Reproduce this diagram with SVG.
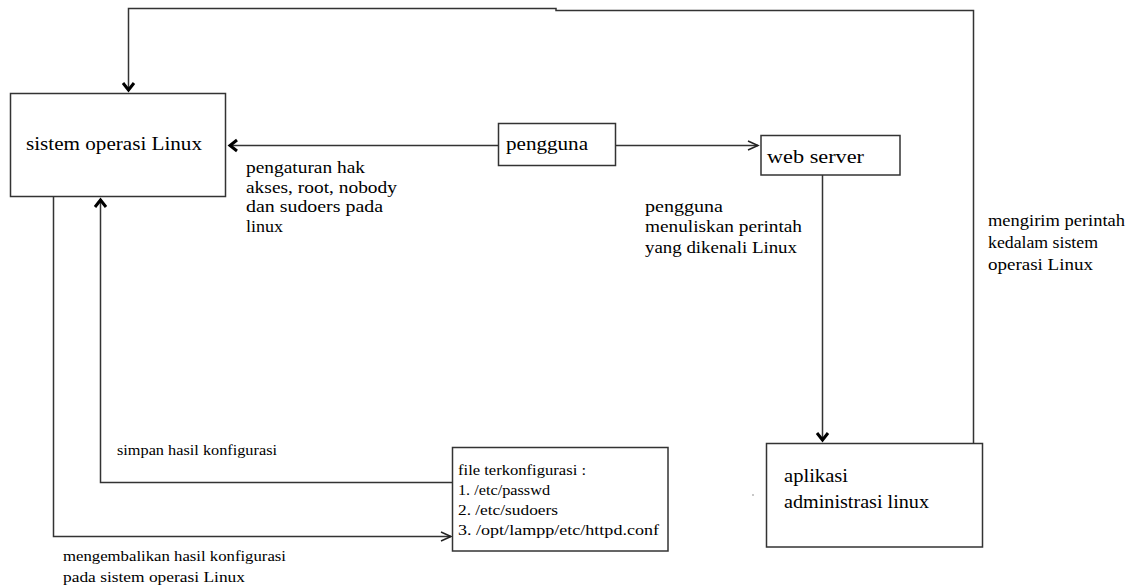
<svg xmlns="http://www.w3.org/2000/svg" width="1129" height="587" viewBox="0 0 1129 587">
<style>
.box{fill:#fff;stroke:#333;stroke-width:1.5}
.ln{fill:none;stroke:#333;stroke-width:1.5}
.t{font-family:"Liberation Serif","Times New Roman",serif;fill:#000}
.big{font-size:19px}
.mid{font-size:17px}
.sm{font-size:15px}
</style>
<defs>
<marker id="bold" markerUnits="userSpaceOnUse" markerWidth="14" markerHeight="14" refX="0" refY="0" viewBox="-12 -7 14 14" orient="auto" overflow="visible">
<path d="M-8,-5.5 L-1,0 L-8,5.5" fill="none" stroke="#000" stroke-width="3"/>
</marker>
<marker id="thin" markerUnits="userSpaceOnUse" markerWidth="14" markerHeight="14" refX="0" refY="0" viewBox="-12 -7 14 14" orient="auto" overflow="visible">
<path d="M-10,-4.5 L0,0 L-10,4.5" fill="none" stroke="#222" stroke-width="1.5"/>
</marker>
</defs>
<rect width="1129" height="587" fill="#fff"/>
<g id="connectors">
<path class="ln" d="M973.5 443 V10.5 H556 V8.5 H128.5 V91" marker-end="url(#bold)"/>
<path class="ln" d="M498 145.5 H229" marker-end="url(#bold)"/>
<path class="ln" d="M616 145.5 H758" marker-end="url(#thin)"/>
<path class="ln" d="M822.5 175 V441" marker-end="url(#bold)"/>
<path class="ln" d="M53.5 197 V536.5 H451" marker-end="url(#thin)"/>
<path class="ln" d="M452 482.5 H100.5 V199" marker-end="url(#bold)"/>
<text class="t mid" x="246" y="173" textLength="119" lengthAdjust="spacingAndGlyphs">pengaturan hak</text>
<text class="t mid" x="246" y="192.5" textLength="151" lengthAdjust="spacingAndGlyphs">akses, root, nobody</text>
<text class="t mid" x="246" y="212" textLength="137" lengthAdjust="spacingAndGlyphs">dan sudoers pada</text>
<text class="t mid" x="246" y="231.5" textLength="37" lengthAdjust="spacingAndGlyphs">linux</text>
<text class="t mid" x="645" y="212" textLength="78" lengthAdjust="spacingAndGlyphs">pengguna</text>
<text class="t mid" x="645" y="232" textLength="157" lengthAdjust="spacingAndGlyphs">menuliskan perintah</text>
<text class="t mid" x="645" y="252.5" textLength="152" lengthAdjust="spacingAndGlyphs">yang dikenali Linux</text>
<text class="t mid" x="988" y="226" textLength="137" lengthAdjust="spacingAndGlyphs">mengirim perintah</text>
<text class="t mid" x="988" y="248" textLength="110" lengthAdjust="spacingAndGlyphs">kedalam sistem</text>
<text class="t mid" x="988" y="270" textLength="105" lengthAdjust="spacingAndGlyphs">operasi Linux</text>
<text class="t sm" x="117" y="455" textLength="160" lengthAdjust="spacingAndGlyphs">simpan hasil konfigurasi</text>
<text class="t sm" x="63" y="561" textLength="223" lengthAdjust="spacingAndGlyphs">mengembalikan hasil konfigurasi</text>
<text class="t sm" x="63" y="582" textLength="182" lengthAdjust="spacingAndGlyphs">pada sistem operasi Linux</text>
</g>
<g id="node-sistem">
<rect class="box" x="10.5" y="93.5" width="215" height="103"/>
<text class="t big" x="26" y="150" textLength="176" lengthAdjust="spacingAndGlyphs">sistem operasi Linux</text>
</g>
<g id="node-pengguna">
<rect class="box" x="498.5" y="123.5" width="117" height="42"/>
<text class="t big" x="506" y="150" textLength="82" lengthAdjust="spacingAndGlyphs">pengguna</text>
</g>
<g id="node-webserver">
<rect class="box" x="761" y="135.5" width="139" height="39.5"/>
<text class="t big" x="767" y="163" textLength="97" lengthAdjust="spacingAndGlyphs">web server</text>
</g>
<g id="node-aplikasi">
<rect class="box" x="766.5" y="443.5" width="216" height="103.5"/>
<text class="t big" x="784" y="482" textLength="64" lengthAdjust="spacingAndGlyphs">aplikasi</text>
<text class="t big" x="784" y="508" textLength="145" lengthAdjust="spacingAndGlyphs">administrasi linux</text>
</g>
<g id="node-file">
<rect class="box" x="452.5" y="447.5" width="215.5" height="103.5"/>
<text class="t sm" x="458" y="475" textLength="128" lengthAdjust="spacingAndGlyphs">file terkonfigurasi :</text>
<text class="t sm" x="458" y="495" textLength="92" lengthAdjust="spacingAndGlyphs">1. /etc/passwd</text>
<text class="t sm" x="458" y="515" textLength="100" lengthAdjust="spacingAndGlyphs">2. /etc/sudoers</text>
<text class="t sm" x="458" y="535" textLength="201" lengthAdjust="spacingAndGlyphs">3. /opt/lampp/etc/httpd.conf</text>
</g>
<circle cx="753" cy="495" r="0.7" fill="#666"/>
</svg>
